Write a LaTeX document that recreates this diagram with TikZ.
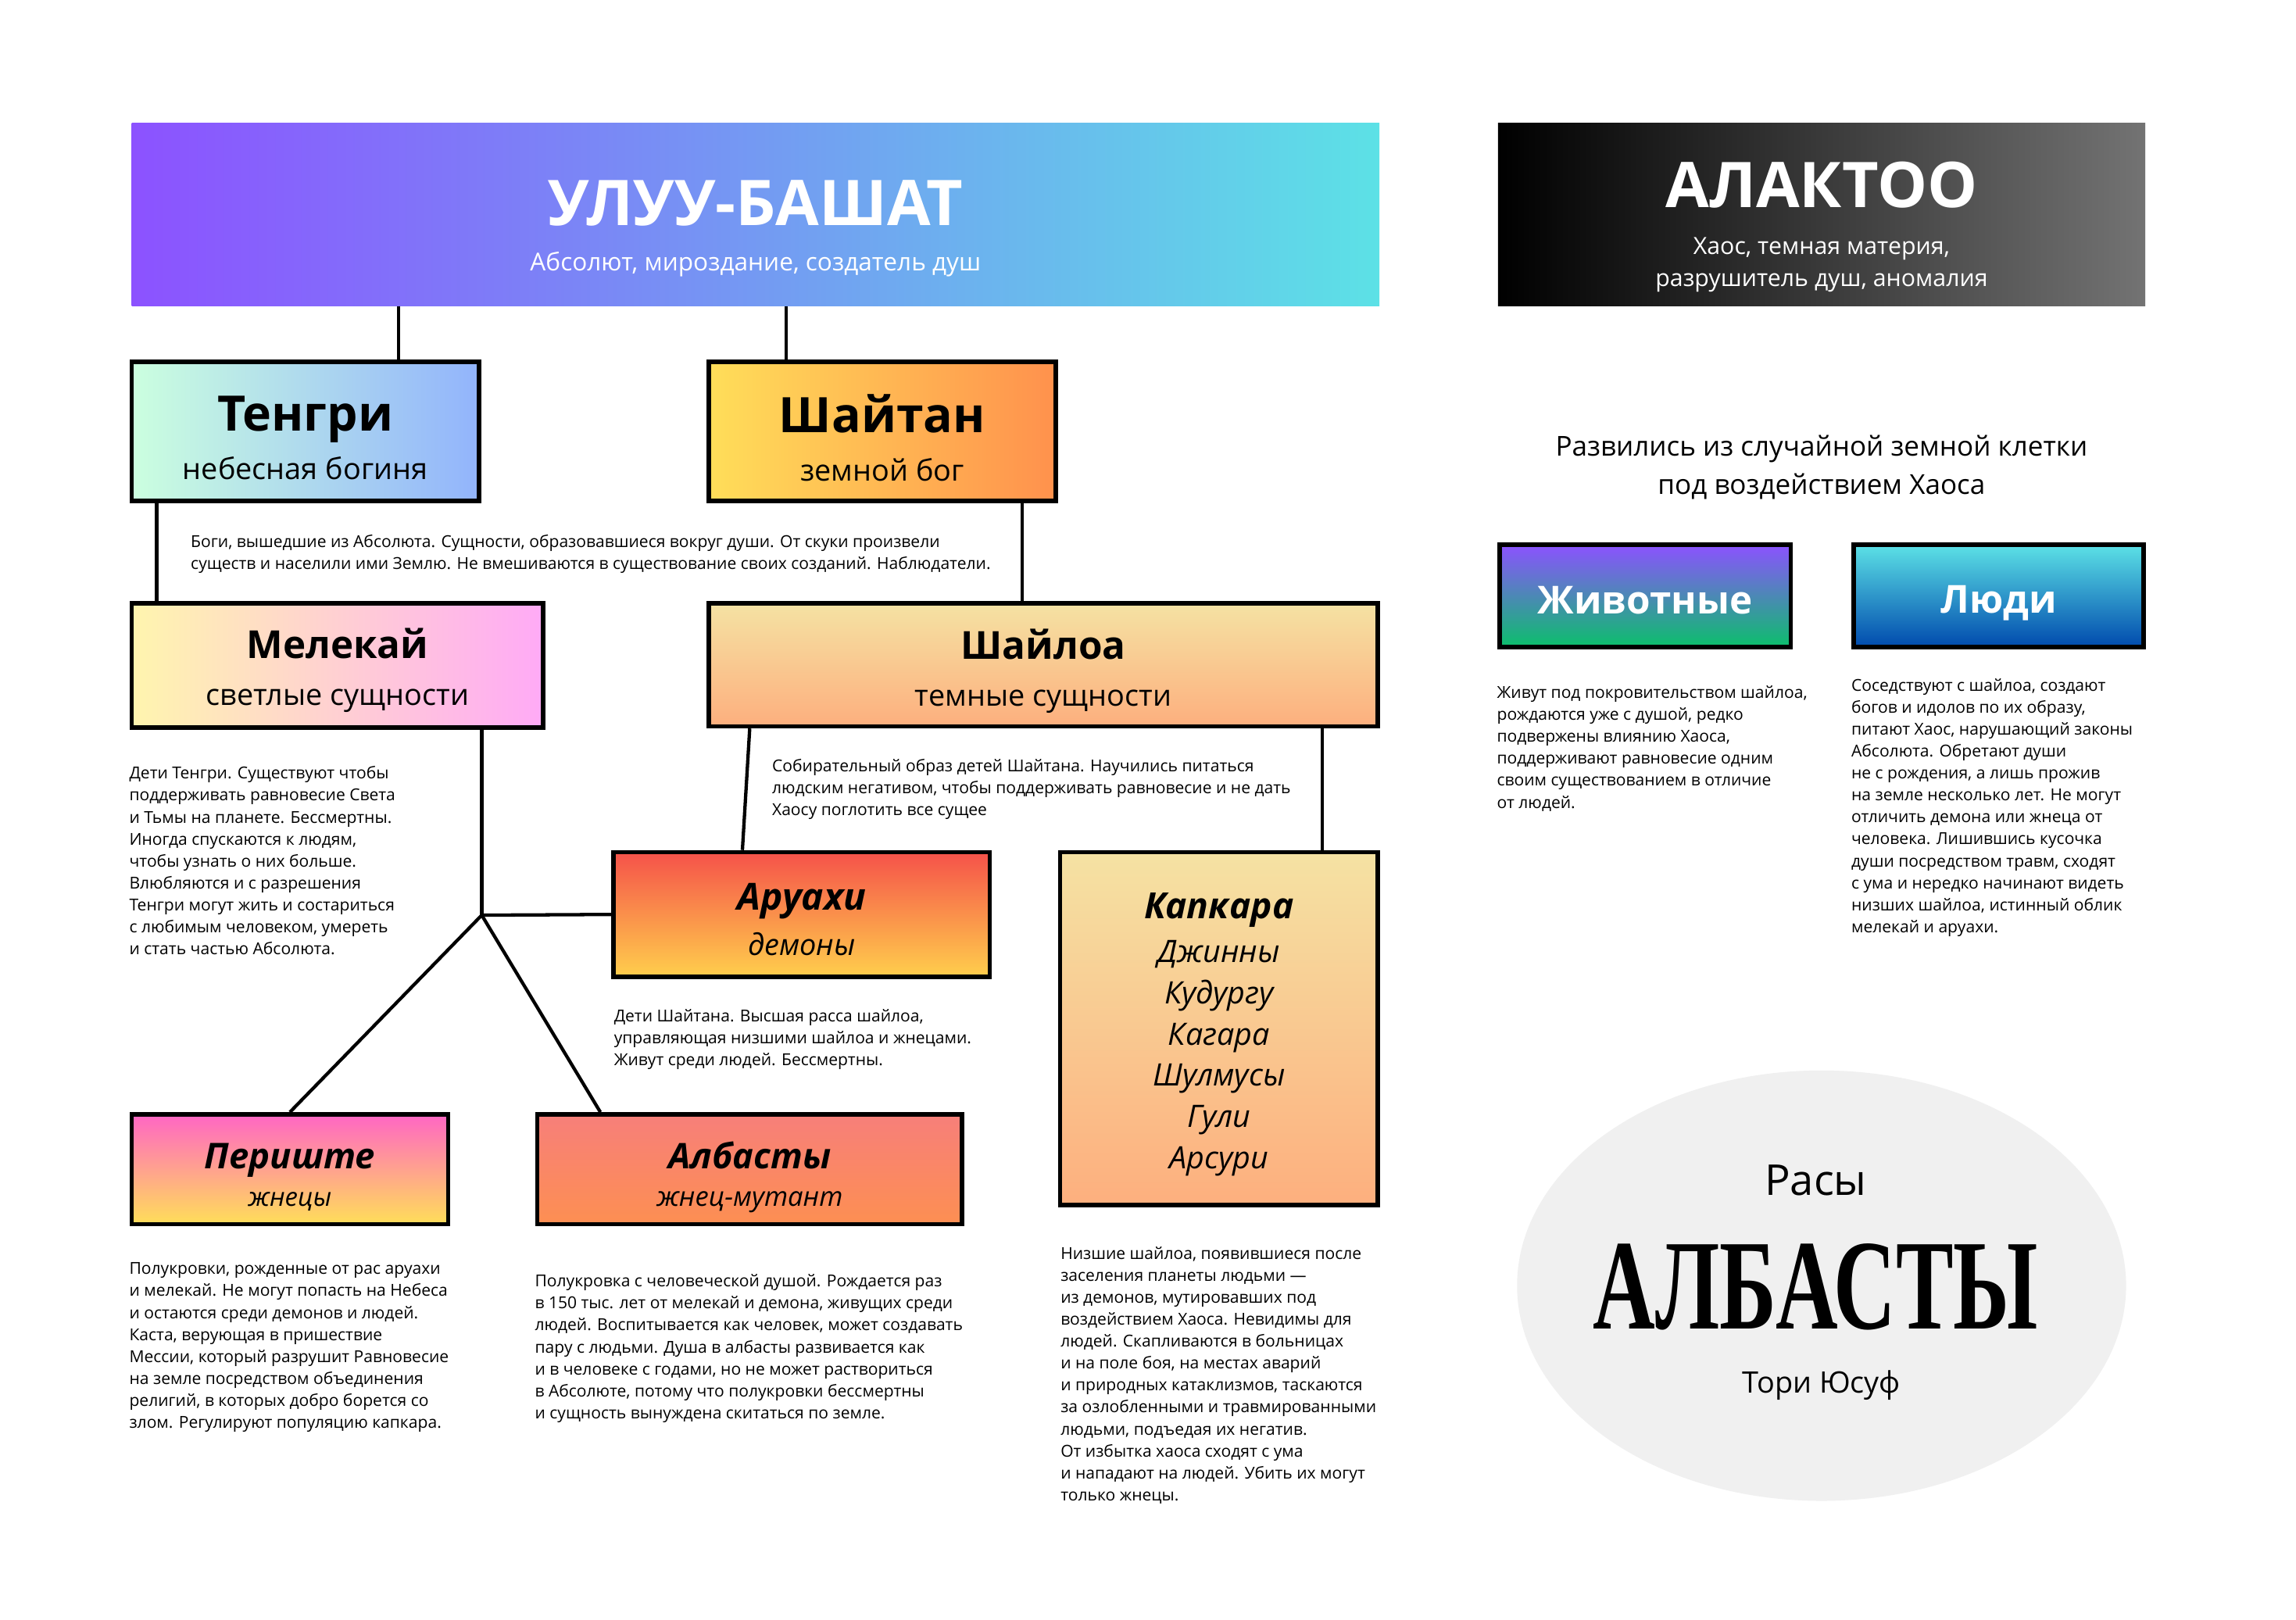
\documentclass[tikz,border=0pt]{standalone}
\usepackage{fontspec}
\setmainfont{Open Sans}
\newfontfamily\didone{Liberation Serif}
\usetikzlibrary{shapes.geometric}
\definecolor{ulpurp}{HTML}{8C52FF}
\definecolor{ulcyan}{HTML}{5CE1E6}
\definecolor{akgrey}{HTML}{737373}
\definecolor{tgmint}{HTML}{CBFFDF}
\definecolor{tgblue}{HTML}{92B4FC}
\definecolor{shyel}{HTML}{FFDE59}
\definecolor{shor}{HTML}{FF914D}
\definecolor{mlyel}{HTML}{FFF5AE}
\definecolor{mlpink}{HTML}{FFAAF6}
\definecolor{slTop}{HTML}{F5E2A3}
\definecolor{slBot}{HTML}{FDAF7E}
\definecolor{arTop}{HTML}{F5524A}
\definecolor{arBot}{HTML}{FFCE4C}
\definecolor{peTop}{HTML}{FF66C4}
\definecolor{peBot}{HTML}{FFDE59}
\definecolor{alTop}{HTML}{F77F7A}
\definecolor{alBot}{HTML}{FD8F52}
\definecolor{zhTop}{HTML}{8C52FF}
\definecolor{zhBot}{HTML}{0BBF6B}
\definecolor{lyTop}{HTML}{5CE1E6}
\definecolor{lyBot}{HTML}{004AAD}
\definecolor{badgegrey}{HTML}{F0F0F0}
% name, x1, y1, x2, y2, box style, text shift (px, down), text style, text
\newcommand\mkbox[9]{%
  \pgfmathsetmacro\bw{(#4-#2)*0.02}%
  \pgfmathsetmacro\bh{(#5-#3)*0.02}%
  \node[#6, minimum width=\bw cm, minimum height=\bh cm] (#1) at ({(#2+#4)/2},{(#3+#5)/2}) {};%
  \node[boxtext, #8, yshift={-(#7)*0.02cm}] (#1-txt) at (#1.center) {#9};%
}
\newcommand\fs[2]{\fontsize{#1}{#2}\selectfont}
\begin{document}
\begin{tikzpicture}[x=0.02cm,y=-0.02cm,
  bx/.style={draw=black,line width=1.7pt,inner sep=0pt},
  banner/.style={inner sep=0pt},
  boxtext/.style={inner sep=0pt,align=center},
  conn/.style={draw=black,line width=1.3pt},
  body/.style={anchor=north west,inner sep=0pt,align=left,font=\fs{6.4}{8.54}},
  heading/.style={inner sep=0pt,align=center},
]
\useasboundingbox[fill=white] (0,0) rectangle (1568,1106);

% top banners
\mkbox{ulu}{90}{84}{942}{209}{banner, left color=ulpurp, right color=ulcyan}{9.5}{text=white, font=\fs{9.6}{12}}{{\fs{24.5}{28}\bfseries УЛУУ-БАШАТ}\\[5.7pt]Абсолют, мироздание, создатель душ}
\mkbox{alaktoo}{1023}{84}{1465}{209}{banner, left color=black, right color=akgrey}{8.5}{text=white, font=\fs{9.2}{12.5}}{{\fs{24.5}{28}\bfseries АЛАКТОО}\\[5.8pt]Хаос, темная материя,\\разрушитель душ, аномалия}

% gods
\mkbox{tengri}{90}{247}{327}{342}{bx, left color=tgmint, right color=tgblue}{4.5}{font=\fs{11.5}{14}}{{\fs{19}{22}\bfseries Тенгри}\\[5pt]небесная богиня}
\mkbox{shaitan}{484}{247}{721}{342}{bx, left color=shyel, right color=shor}{4.5}{font=\fs{11.5}{14}}{{\fs{19}{22}\bfseries Шайтан}\\[5pt]земной бог}

% entities
\mkbox{melekai}{90}{412}{371}{497}{bx, left color=mlyel, right color=mlpink}{3.5}{font=\fs{11.5}{14}}{{\fs{15}{18}\bfseries Мелекай}\\[4.2pt]светлые сущности}
\mkbox{shailoa}{484}{412}{941}{496}{bx, top color=slTop, bottom color=slBot}{4.5}{font=\fs{11.5}{14}}{{\fs{15}{18}\bfseries Шайлоа}\\[4.2pt]темные сущности}

\mkbox{aruahi}{419}{582}{676}{667}{bx, top color=arTop, bottom color=arBot}{3.5}{font=\fs{11.5}{14}\itshape}{{\fs{14.5}{17}\bfseries Аруахи}\\[3.7pt]демоны}
\mkbox{kapkara}{724}{582}{941}{823}{bx, top color=slTop, bottom color=slBot}{4}{font=\fs{12}{16}\itshape}{{\fs{14}{16}\bfseries Капкара}\\[1pt]Джинны\\Кудургу\\Кагара\\Шулмусы\\Гули\\Арсури}
\mkbox{perishte}{90}{761}{306}{836}{bx, top color=peTop, bottom color=peBot}{5.5}{font=\fs{10}{12}\itshape}{{\fs{13.8}{17}\bfseries Периште}\\[2.7pt]жнецы}
\mkbox{albasty}{367}{761}{657}{836}{bx, top color=alTop, bottom color=alBot}{5.5}{font=\fs{10.5}{12}\itshape}{{\fs{13.7}{17}\bfseries Албасты}\\[2.7pt]жнец-мутант}

% right column
\node[heading, font=\fs{10.65}{14.8}] (origin) at (1244,319) {Развились из случайной земной клетки\\под воздействием Хаоса};
\mkbox{zhivotnye}{1024}{372}{1223}{442}{bx, top color=zhTop, bottom color=zhBot}{3}{text=white}{\fs{15}{18}\bfseries Животные}
\mkbox{lyudi}{1266}{372}{1464}{442}{bx, top color=lyTop, bottom color=lyBot}{5}{text=white}{\fs{15}{18}\bfseries Люди}

% badge
\node[ellipse, fill=badgegrey, inner sep=0pt, minimum width=8.32cm, minimum height=5.88cm] (badge) at (1244,878) {};
\node[inner sep=0pt, font=\fs{16.5}{18}] (rasy) at (1240,806) {Расы};
\node[inner sep=0pt] (albname) at (1240,879) {\scalebox{0.67}[1]{\didone\fs{50}{50}\bfseries АЛБАСТЫ}};
\node[inner sep=0pt, font=\fs{11.5}{14}] (author) at (1244,946) {Тори Юсуф};

% connectors
\coordinate (jn) at (329,625);
\draw[conn] (ulu.south -| 272,0) -- (tengri.north -| 272,0);
\draw[conn] (ulu.south -| 537,0) -- (shaitan.north -| 537,0);
\draw[conn] (tengri.south -| 107,0) -- (melekai.north -| 107,0);
\draw[conn] (shaitan.south -| 698,0) -- (shailoa.north -| 698,0);
\draw[conn] (melekai.south -| jn) -- (jn);
\draw[conn] (jn) -- (aruahi.west);
\draw[conn] (jn) -- (perishte.north);
\draw[conn] (jn) -- (albasty.north -| 410,0);
\draw[conn] (shailoa.south -| 512,0) -- (aruahi.north -| 507,0);
\draw[conn] (shailoa.south -| 903,0) -- (kapkara.north -| 903,0);

% body texts
\node[body] (txgods) at (130,365) {Боги, вышедшие из Абсолюта. Сущности, образовавшиеся вокруг души. От скуки произвели\\существ и населили ими Землю. Не вмешиваются в существование своих созданий. Наблюдатели.};
\node[body] (txmel) at (88,523) {Дети Тенгри. Существуют чтобы\\поддерживать равновесие Света\\и Тьмы на планете. Бессмертны.\\Иногда спускаются к людям,\\чтобы узнать о них больше.\\Влюбляются и с разрешения\\Тенгри могут жить и состариться\\с любимым человеком, умереть\\и стать частью Абсолюта.};
\node[body] (txshl) at (527,518) {Собирательный образ детей Шайтана. Научились питаться\\людским негативом, чтобы поддерживать равновесие и не дать\\Хаосу поглотить все сущее};
\node[body] (txaru) at (419,689) {Дети Шайтана. Высшая расса шайлоа,\\управляющая низшими шайлоа и жнецами.\\Живут среди людей. Бессмертны.};
\node[body] (txper) at (88,862) {Полукровки, рожденные от рас аруахи\\и мелекай. Не могут попасть на Небеса\\и остаются среди демонов и людей.\\Каста, верующая в пришествие\\Мессии, который разрушит Равновесие\\на земле посредством объединения\\религий, в которых добро борется со\\злом. Регулируют популяцию капкара.};
\node[body] (txalb) at (365,870) {Полукровка с человеческой душой. Рождается раз\\в 150 тыс. лет от мелекай и демона, живущих среди\\людей. Воспитывается как человек, может создавать\\пару с людьми. Душа в албасты развивается как\\и в человеке с годами, но не может раствориться\\в Абсолюте, потому что полукровки бессмертны\\и сущность вынуждена скитаться по земле.};
\node[body] (txkap) at (724,851) {Низшие шайлоа, появившиеся после\\заселения планеты людьми —\\из демонов, мутировавших под\\воздействием Хаоса. Невидимы для\\людей. Скапливаются в больницах\\и на поле боя, на местах аварий\\и природных катаклизмов, таскаются\\за озлобленными и травмированными\\людьми, подъедая их негатив.\\От избытка хаоса сходят с ума\\и нападают на людей. Убить их могут\\только жнецы.};
\node[body] (txzh) at (1022,468) {Живут под покровительством шайлоа,\\рождаются уже с душой, редко\\подвержены влиянию Хаоса,\\поддерживают равновесие одним\\своим существованием в отличие\\от людей.};
\node[body] (txly) at (1264,463) {Соседствуют с шайлоа, создают\\богов и идолов по их образу,\\питают Хаос, нарушающий законы\\Абсолюта. Обретают души\\не с рождения, а лишь прожив\\на земле несколько лет. Не могут\\отличить демона или жнеца от\\человека. Лишившись кусочка\\души посредством травм, сходят\\с ума и нередко начинают видеть\\низших шайлоа, истинный облик\\мелекай и аруахи.};
\end{tikzpicture}
\end{document}
